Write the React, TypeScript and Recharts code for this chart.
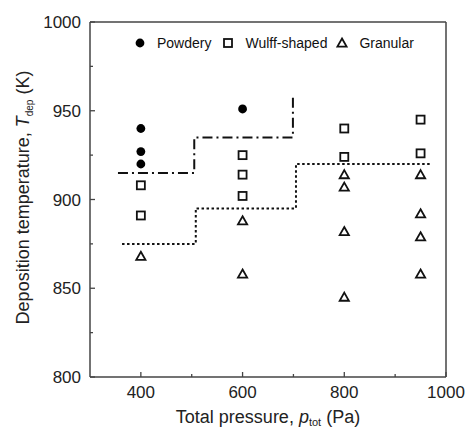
import React from 'react'
import {
  ComposedChart,
  Scatter,
  Line,
  XAxis,
  YAxis,
  Legend,
  Label,
  ReferenceLine,
} from 'recharts'

// Deposition temperature vs total pressure, morphology map.
// Frame, inward ticks and step boundaries follow the printed figure.

const FONT = '"Liberation Sans", Arial, Helvetica, sans-serif'
const INK = '#111'
const FRAME = '#444'

// --- data ---
const seriesNames = ['Powdery', 'Wulff-shaped', 'Granular']

const powderyP = [400, 400, 400, 600]
const powderyT = [940, 927, 920, 951]

const wulffP = [400, 400, 600, 600, 600, 800, 800, 950, 950]
const wulffT = [908, 891, 925, 914, 902, 940, 924, 945, 926]

const granularP = [400, 600, 600, 800, 800, 800, 800, 950, 950, 950, 950]
const granularT = [868, 888, 858, 914, 907, 882, 845, 914, 892, 879, 858]

// boundary lines (dash-dot: powdery / wulff, dotted: wulff / granular)
const dashDotP = [355, 505, 505, 699, 699]
const dashDotT = [915, 915, 935, 935, 958]
const dottedP = [363, 508, 508, 705, 705, 970]
const dottedT = [875, 875, 895, 895, 920, 920]

const xTicks = [400, 500, 600, 700, 800, 900, 1000]
const xMajor = [400, 600, 800, 1000]
const yTicks = [800, 825, 850, 875, 900, 925, 950, 975, 1000]
const yMajor = [800, 850, 900, 950, 1000]

const zip = (ps: number[], ts: number[]) => ps.map((p, i) => ({ p, t: ts[i] }))

const powdery = zip(powderyP, powderyT)
const wulff = zip(wulffP, wulffT)
const granular = zip(granularP, granularT)
const dashDot = zip(dashDotP, dashDotT)
const dotted = zip(dottedP, dottedT)

const TICK_MARGIN_X = 9
const TICK_MARGIN_Y = 9

function XTick(props: any) {
  const { x, y, payload } = props
  const axisY = y - TICK_MARGIN_X
  const major = xMajor.includes(payload.value)
  return (
    <g>
      <line x1={x} x2={x} y1={axisY} y2={axisY - (major ? 5 : 3)} stroke={FRAME} strokeWidth={1.3} />
      {major && (
        <text x={x} y={y} dy="0.71em" textAnchor="middle" fill="#222" fontSize={17} fontFamily={FONT}>
          {payload.value}
        </text>
      )}
    </g>
  )
}

function YTick(props: any) {
  const { x, y, payload } = props
  const axisX = x + TICK_MARGIN_Y
  const major = yMajor.includes(payload.value)
  return (
    <g>
      <line x1={axisX} x2={axisX + (major ? 5 : 3)} y1={y} y2={y} stroke={FRAME} strokeWidth={1.3} />
      {major && (
        <text x={x} y={y} dy="0.355em" textAnchor="end" fill="#222" fontSize={17} fontFamily={FONT}>
          {payload.value}
        </text>
      )}
    </g>
  )
}

const Dot = ({ cx, cy }: any) => <circle cx={cx} cy={cy} r={4.4} fill="#000" />
const Square = ({ cx, cy }: any) => (
  <rect x={cx - 4} y={cy - 4} width={8} height={8} fill="none" stroke={INK} strokeWidth={1.8} />
)
const Triangle = ({ cx, cy }: any) => (
  <path
    d={`M${cx},${cy - 4.5} L${cx + 4.6},${cy + 3.6} L${cx - 4.6},${cy + 3.6} Z`}
    fill="none"
    stroke={INK}
    strokeWidth={1.8}
  />
)

const legendIcons: Record<string, React.ReactNode> = {
  Powdery: <circle cx={5} cy={5} r={4.4} fill="#000" />,
  'Wulff-shaped': <rect x={1} y={1} width={8} height={8} fill="none" stroke={INK} strokeWidth={1.8} />,
  Granular: <path d="M5,0.5 L9.6,8.6 L0.4,8.6 Z" fill="none" stroke={INK} strokeWidth={1.8} />,
}
const legendGap: Record<string, number> = { Powdery: 12, 'Wulff-shaped': 10, Granular: 0 }

// legend keeps the figure's order rather than recharts' sorted payload
function LegendBox() {
  return (
    <div style={{ display: 'flex', alignItems: 'center', fontFamily: FONT, fontSize: 14, color: INK, lineHeight: '16px' }}>
      {seriesNames.map((name) => (
        <div key={name} style={{ display: 'flex', alignItems: 'center', marginRight: legendGap[name] }}>
          <svg width={10} height={10} style={{ overflow: 'visible' }}>
            {legendIcons[name]}
          </svg>
          <span style={{ marginLeft: 12 }}>{name}</span>
        </div>
      ))}
    </div>
  )
}

function YLabel({ viewBox }: any) {
  const cx = 29
  const cy = viewBox.y + viewBox.height / 2 - 2
  return (
    <text
      x={cx}
      y={cy}
      transform={`rotate(-90 ${cx} ${cy})`}
      textAnchor="middle"
      fill="#222"
      fontSize={18}
      fontFamily={FONT}
    >
      Deposition temperature, <tspan fontStyle="italic">T</tspan>
      <tspan fontSize={10} dy={4}>dep</tspan>
      <tspan dy={-4}>{'  (K)'}</tspan>
    </text>
  )
}

function XLabel({ viewBox }: any) {
  const cx = viewBox.x + viewBox.width / 2
  return (
    <text x={cx} y={423} textAnchor="middle" fill="#222" fontSize={18} fontFamily={FONT}>
      Total pressure, <tspan fontStyle="italic">p</tspan>
      <tspan fontSize={11} dy={3}>tot</tspan>
      <tspan dy={-3}> (Pa)</tspan>
    </text>
  )
}

export default function App() {
  return (
    <div style={{ position: 'absolute', left: 0, top: 0, width: 466, height: 432, background: '#fff' }}>
      <ComposedChart width={466} height={432} margin={{ top: 22, right: 20, bottom: 0, left: 0 }}>
        <XAxis
          dataKey="p"
          type="number"
          domain={[300, 1000]}
          ticks={xTicks}
          interval={0}
          height={55}
          tickSize={0}
          tickMargin={TICK_MARGIN_X}
          tickLine={false}
          axisLine={{ stroke: FRAME, strokeWidth: 1.5 }}
          tick={<XTick />}
          allowDataOverflow
        >
          <Label content={<XLabel />} />
        </XAxis>
        <YAxis
          dataKey="t"
          type="number"
          domain={[800, 1000]}
          ticks={yTicks}
          interval={0}
          width={90}
          tickSize={0}
          tickMargin={TICK_MARGIN_Y}
          tickLine={false}
          axisLine={{ stroke: FRAME, strokeWidth: 1.5 }}
          tick={<YTick />}
          allowDataOverflow
        >
          <Label content={<YLabel />} />
        </YAxis>
        <ReferenceLine y={1000} stroke={FRAME} strokeWidth={1.5} />
        <ReferenceLine x={1000} stroke={FRAME} strokeWidth={1.5} />
        <Legend
          content={<LegendBox />}
          layout="horizontal"
          verticalAlign="middle"
          align="center"
          wrapperStyle={{ left: 135, top: 35, width: 'auto' }}
        />
        <Line
          data={dashDot}
          dataKey="t"
          type="linear"
          stroke={INK}
          strokeWidth={2}
          strokeDasharray="10 4 2 4"
          dot={false}
          activeDot={false}
          legendType="none"
          isAnimationActive={false}
        />
        <Line
          data={dotted}
          dataKey="t"
          type="linear"
          stroke={INK}
          strokeWidth={2}
          strokeDasharray="2.5 2.5"
          dot={false}
          activeDot={false}
          legendType="none"
          isAnimationActive={false}
        />
        <Scatter name="Powdery" data={powdery} fill="#000" shape={<Dot />} isAnimationActive={false} />
        <Scatter name="Wulff-shaped" data={wulff} fill="#000" shape={<Square />} isAnimationActive={false} />
        <Scatter name="Granular" data={granular} fill="#000" shape={<Triangle />} isAnimationActive={false} />
      </ComposedChart>
    </div>
  )
}
